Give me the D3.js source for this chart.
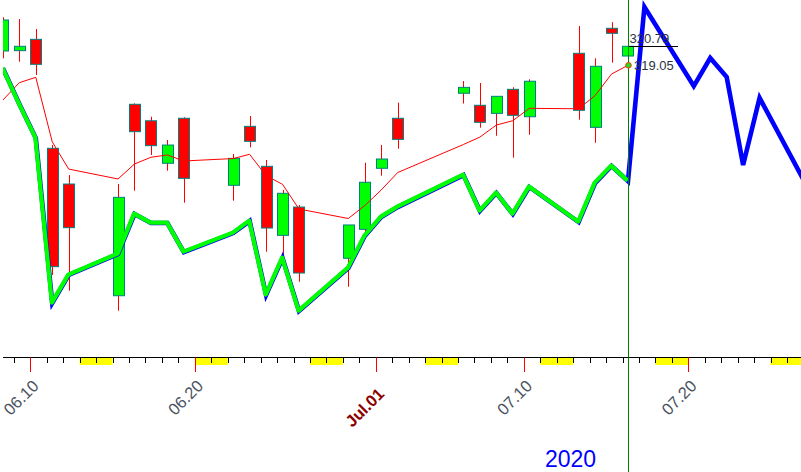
<!DOCTYPE html>
<html><head><meta charset="utf-8">
<script src="https://cdn.jsdelivr.net/npm/d3@7"></script>
<style>html,body{margin:0;padding:0;background:#fff;}svg{display:block;}</style>
</head><body><svg id="c" width="801" height="472"></svg>
<script>
// ---- data ----
const dates = ["2020-06-08","2020-06-09","2020-06-10","2020-06-11","2020-06-12",
  "2020-06-15","2020-06-16","2020-06-17","2020-06-18","2020-06-19",
  "2020-06-22","2020-06-23","2020-06-24","2020-06-25","2020-06-26",
  "2020-06-29","2020-06-30","2020-07-01","2020-07-02",
  "2020-07-06","2020-07-07","2020-07-08","2020-07-09","2020-07-10",
  "2020-07-13","2020-07-14","2020-07-15","2020-07-16"];
const open  = [320.36,320.39,321.43,311.45,308.18, 297.95,315.48,313.97,310.08,314.20,
  308.06,313.46,309.80,303.48,306.07, 301.38,304.03,309.62,314.20,
  316.49,315.39,314.65,316.85,314.34, 320.15,313.37,322.44,319.90];
const high  = [323.45,323.29,322.37,311.75,309.00, 308.18,315.57,314.34,312.21,314.29,
  310.93,314.41,310.38,307.63,306.26, 304.43,310.13,311.75,315.63,
  317.61,317.43,316.21,317.04,317.77, 322.65,319.69,323.00,320.79];
const low   = [319.69,319.38,318.16,299.85,298.41, 296.58,307.57,310.84,309.40,306.47,
  306.65,311.54,301.98,301.52,299.23, 298.77,303.72,308.94,311.41,
  315.55,313.34,312.60,310.59,312.69, 314.07,311.96,319.29,319.90];
const close = [323.20,320.79,319.14,300.61,304.18, 306.96,312.97,311.69,311.75,308.70,
  310.53,312.09,304.15,307.33,300.03, 304.43,308.34,310.47,312.27,
  317.03,313.83,316.21,314.47,317.59, 314.93,318.96,321.98,320.79];
const avgLine = [315.87,317.46,317.95,312.05,309.55, 308.64,310.01,310.63,310.84,310.29,
  310.51,310.90,308.94,308.15,305.89, 305.02,306.21,307.63,309.23,
  311.80,312.48,313.58,313.98,315.11, 315.07,316.28,318.25,319.05];
const trendLine = [318.78,315.51,312.39,297.28,299.85, 301.77,305.43,304.61,304.61,301.95,
  303.69,304.79,298.02,301.40,296.55, 300.49,303.42,305.16,306.07,
  309.00,305.71,307.36,305.43,307.91, 304.70,308.27,309.83,308.45];
const forecastDates = ["2020-07-17","2020-07-20","2020-07-21","2020-07-22","2020-07-23","2020-07-24","2020-07-27"];
const forecastLine = [324.39,317.15,319.72,317.98,309.92,316.06,307.63];
const tickLabels = [["2020-06-10","06.10"],["2020-06-20","06.20"],["2020-07-01","Jul.01"],["2020-07-10","07.10"],["2020-07-20","07.20"]];
const lastClose = 320.79, lastAvg = 319.05;
const yearLabel = "2020";

// ---- scales ----
const parse = d3.utcParse("%Y-%m-%d");
const svg = d3.select("#c");
const W = 801, H = 472, axisY = 357.5, left = 3;
const x = d3.scaleUtc().domain([parse("2020-06-10"), parse("2020-07-20")]).range([30.3, 688.3]);
const y = d3.scaleLinear().domain([292.34, 325.03]).range([357, 0]);
const candleT = d => d3.utcHour.offset(parse(d), 8);
const cx = d => x(candleT(d));
const dayW = x(parse("2020-06-11")) - x(parse("2020-06-10"));
const bw = Math.round(dayW * 0.67);

svg.append("defs").append("clipPath").attr("id","plot")
  .append("rect").attr("x", left).attr("y", 0).attr("width", W - left).attr("height", axisY);

// weekends (yellow) & ticks
const days = d3.utcDay.range(parse("2020-06-07"), parse("2020-07-28"));
const gAx = svg.append("g");
days.filter(d => d.getUTCDay() === 6).forEach(d => {
  const x0 = Math.max(left, x(d)), x1 = x(d3.utcDay.offset(d, 2));
  gAx.append("rect").attr("x", x0).attr("y", axisY).attr("width", x1 - x0).attr("height", 7.5).attr("fill", "#ffff00");
});
gAx.append("line").attr("x1", left).attr("x2", W).attr("y1", axisY).attr("y2", axisY).attr("stroke", "#000");
const majorSet = new Set(tickLabels.map(t => t[0]));
days.forEach(d => {
  const xx = Math.round(x(d)) + 0.5;
  if (xx < left) return;
  const key = d3.utcFormat("%Y-%m-%d")(d);
  if (majorSet.has(key)) {
    gAx.append("line").attr("x1", xx).attr("x2", xx).attr("y1", axisY).attr("y2", 372).attr("stroke", "#ff0000");
  } else {
    gAx.append("line").attr("x1", xx).attr("x2", xx).attr("y1", axisY).attr("y2", 363).attr("stroke", "#000");
  }
});
tickLabels.forEach(([d, lab]) => {
  const isMonth = lab.startsWith("Jul");
  const tx = x(parse(d)) + 9.5, ty = isMonth ? 395 : 387;
  svg.append("text").attr("transform", `translate(${tx},${ty}) rotate(-45)`)
    .attr("text-anchor", "end")
    .attr("font-family", "Liberation Sans, Arial, sans-serif")
    .attr("font-size", isMonth ? 16.5 : 16.5)
    .attr("font-weight", isMonth ? "bold" : "normal")
    .attr("fill", isMonth ? "#8b0000" : "#4a5260")
    .text(lab);
});
svg.append("text").attr("x", 545).attr("y", 467).attr("font-family", "Liberation Sans, Arial, sans-serif")
  .attr("font-size", 23).attr("fill", "#0000ff").text(yearLabel);

const plot = svg.append("g").attr("clip-path", "url(#plot)");

// candles
const idx = d3.range(dates.length);
plot.append("g").selectAll("line").data(idx).join("line")
  .attr("x1", i => Math.round(cx(dates[i])) + 0.5).attr("x2", i => Math.round(cx(dates[i])) + 0.5)
  .attr("y1", i => y(high[i])).attr("y2", i => y(low[i]))
  .attr("stroke", "#ff0000").attr("stroke-width", 1);
plot.append("g").selectAll("rect").data(idx).join("rect")
  .attr("x", i => Math.round(cx(dates[i]) - bw / 2) + 0.5)
  .attr("y", i => y(Math.max(open[i], close[i])))
  .attr("width", bw)
  .attr("height", i => Math.max(1, Math.abs(y(open[i]) - y(close[i]))))
  .attr("fill", i => close[i] >= open[i] ? "#00ff00" : "#ff0000")
  .attr("stroke", "#008080").attr("stroke-width", 1);

// moving average line
plot.append("path").datum(idx)
  .attr("d", d3.line().x(i => cx(dates[i])).y(i => y(avgLine[i])))
  .attr("fill", "none").attr("stroke", "#ff0000").attr("stroke-width", 1);

// last-value labels
svg.append("line").attr("x1", cx(dates[dates.length-1])).attr("x2", cx(dates[dates.length-1]) + 50)
  .attr("y1", Math.round(y(lastClose)) + 0.5).attr("y2", Math.round(y(lastClose)) + 0.5).attr("stroke", "#000");
svg.append("text").attr("x", cx(dates[dates.length-1]) + 1.5).attr("y", y(lastClose) - 3)
  .attr("font-family", "Liberation Sans, Arial, sans-serif").attr("font-size", 13).attr("fill", "#2b3340").text(lastClose.toFixed(2));
svg.append("text").attr("x", cx(dates[dates.length-1]) + 6).attr("y", y(lastAvg) + 4.5)
  .attr("font-family", "Liberation Sans, Arial, sans-serif").attr("font-size", 13).attr("fill", "#2b3340").text(lastAvg.toFixed(2));

// blue (full incl. forecast) and green lines
const allDates = dates.concat(forecastDates);
const allVals = trendLine.concat(forecastLine);
const lineAll = d3.line().x((d, i) => cx(allDates[i])).y(d => y(d));
plot.append("path").datum(allVals).attr("d", lineAll)
  .attr("fill", "none").attr("stroke", "#0000ff").attr("stroke-width", 4.6).attr("stroke-linejoin", "miter");
plot.append("path").datum(trendLine)
  .attr("d", d3.line().x((d, i) => cx(dates[i])).y(d => y(d)))
  .attr("fill", "none").attr("stroke", "#00ff00").attr("stroke-width", 4.2).attr("stroke-linejoin", "round")
  .attr("transform", "translate(-0.4,-0.4)");

// current-day vertical line and dot
const lx = Math.round(cx(dates[dates.length-1])) + 0.5;
svg.append("line").attr("x1", lx).attr("x2", lx).attr("y1", 0).attr("y2", H).attr("stroke", "#008000").attr("stroke-width", 1);
svg.append("circle").attr("cx", lx).attr("cy", y(lastAvg)).attr("r", 2.8)
  .attr("fill", "#22dd22").attr("stroke", "#ff3300").attr("stroke-width", 1);
</script></body></html>
